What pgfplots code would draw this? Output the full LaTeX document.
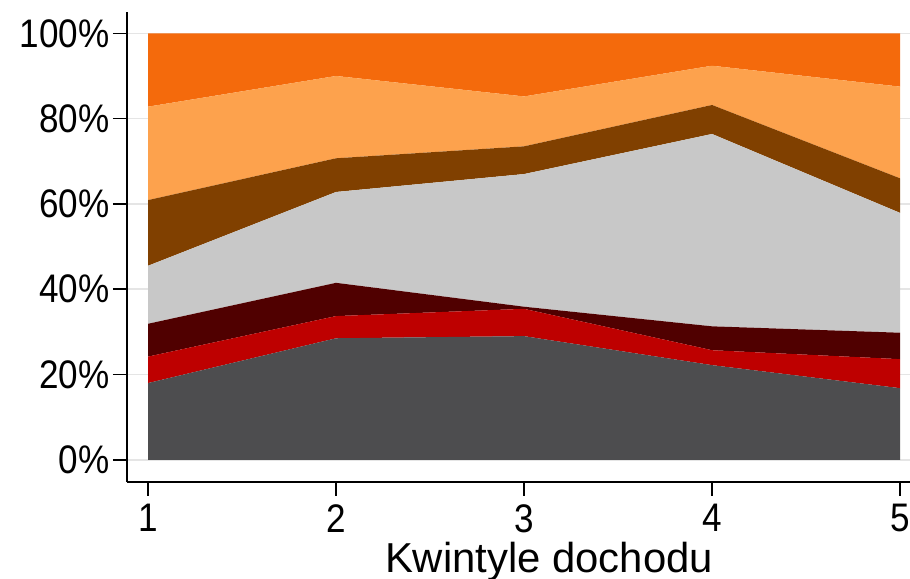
\documentclass[border=0pt]{standalone}
\usepackage{fontspec}
\setmainfont{Liberation Sans}[FakeStretch=0.88]
\newfontfamily\labelfont{Liberation Sans}
\usepackage{pgfplots}
\pgfplotsset{compat=1.18}
\definecolor{cA}{RGB}{77,77,79}
\definecolor{cB}{RGB}{190,0,0}
\definecolor{cC}{RGB}{80,0,0}
\definecolor{cD}{RGB}{200,200,200}
\definecolor{cE}{RGB}{128,64,0}
\definecolor{cF}{RGB}{253,162,77}
\definecolor{cG}{RGB}{244,106,12}
\begin{document}
\begin{tikzpicture}
\begin{axis}[
  name=ax,
  scale only axis,
  width=783bp, height=470bp,
  xmin=0.888, xmax=5.053,
  ymin=-5.2, ymax=105,
  axis lines=left,
  axis line style={-, line width=1.5bp},
  tick style={black, line width=1.5bp},
  tick align=outside,
  major tick length=14bp,
  xtick={1,2,3,4,5},
  ytick={0,20,40,60,80,100},
  yticklabel={\pgfmathprintnumber{\tick}\%},
  /pgf/number format/assume math mode=true,
  ymajorgrids,
  grid style={black!10, line width=1.5bp},
  ticklabel style={font=\fontsize{40}{44}\selectfont},
  yticklabel style={xshift=0bp},
  xticklabel style={yshift=-5bp},
  xlabel={Kwintyle dochodu},
  xlabel style={font=\labelfont\fontsize{42}{46}\selectfont, at={(axis description cs:0.539,0)}, anchor=base, yshift=-90bp},
  stack plots=y,
  clip=false,
]
\addplot[fill=cA, draw=none] coordinates {(1,18.0) (2,28.5) (3,29.0) (4,22.2) (5,16.8)} \closedcycle;
\addplot[fill=cB, draw=none] coordinates {(1,6.2) (2,5.2) (3,6.4) (4,3.5) (5,6.8)} \closedcycle;
\addplot[fill=cC, draw=none] coordinates {(1,7.7) (2,7.8) (3,0.5) (4,5.6) (5,6.2)} \closedcycle;
\addplot[fill=cD, draw=none] coordinates {(1,13.6) (2,21.3) (3,31.1) (4,45.1) (5,28.1)} \closedcycle;
\addplot[fill=cE, draw=none] coordinates {(1,15.4) (2,7.9) (3,6.5) (4,6.8) (5,8.1)} \closedcycle;
\addplot[fill=cF, draw=none] coordinates {(1,21.9) (2,19.3) (3,11.7) (4,9.2) (5,21.5)} \closedcycle;
\addplot[fill=cG, draw=none] coordinates {(1,17.2) (2,10.0) (3,14.8) (4,7.6) (5,12.5)} \closedcycle;
\end{axis}
\pgfresetboundingbox
\path ([xshift=-127bp,yshift=-97bp]ax.south west) rectangle ([yshift=12bp]ax.north east);
\end{tikzpicture}
\end{document}
